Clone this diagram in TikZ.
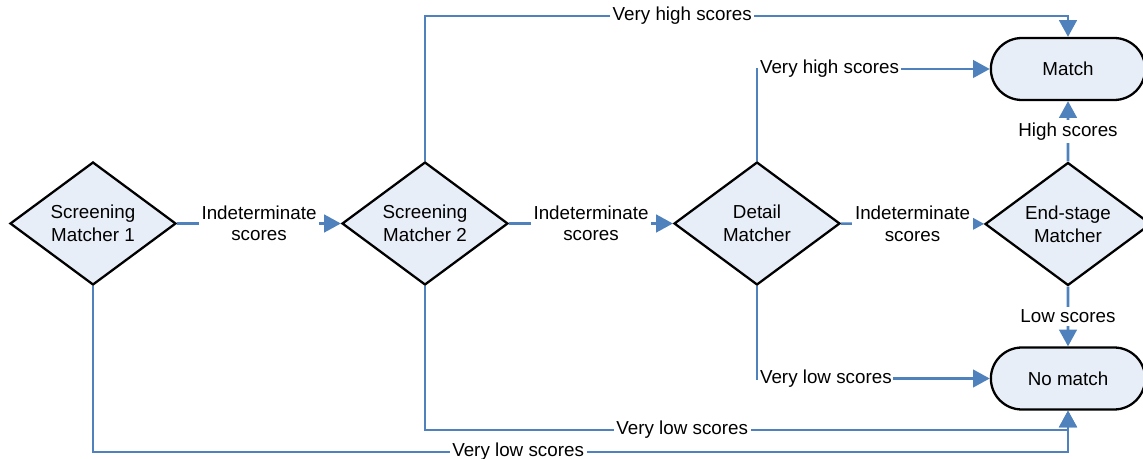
\documentclass[tikz,border=0pt]{standalone}
\usepackage{fontspec}
\setmainfont{Liberation Sans}
\usetikzlibrary{positioning,shapes.geometric,shapes.misc,arrows.meta}

\definecolor{flowblue}{HTML}{4F81BD}
\definecolor{boxfill}{HTML}{E8EEF7}

\tikzset{
  matcher/.style={diamond, draw=black, line width=1.3pt, fill=boxfill,
    minimum width=3.32cm, minimum height=2.46cm, inner sep=0pt, align=center,
    font=\fontsize{10.7}{13}\selectfont},
  outcome/.style={rounded rectangle, draw=black, line width=1.3pt, fill=boxfill,
    minimum width=3.32cm, minimum height=1.24cm,
    font=\fontsize{10.7}{13}\selectfont},
  flow/.style={draw=flowblue, line width=1.45pt, -{Triangle[length=9.5pt,width=10pt]}},
  lbl/.style={fill=white, inner sep=1.5pt, align=center,
    font=\fontsize{10.7}{12}\selectfont}
}

\begin{document}
\begin{tikzpicture}[x=0.02cm,y=-0.02cm]

\useasboundingbox (0,0) rectangle (1143,459);
\clip (0,0) rectangle (1143,459);

\node[matcher] (sm1) at (93,223.5)  {Screening\\Matcher 1};
\node[matcher] (sm2) at (425,223.5) {Screening\\Matcher 2};
\node[matcher] (dm)  at (757,223.5) {Detail\\Matcher};
\node[matcher] (esm) at (1068,224)  {End-stage\\Matcher};

\node[outcome] (match)   at (1068,69)    {Match};
\node[outcome] (nomatch) at (1068,378.5) {No match};

\coordinate (t2) at (425,16);
\coordinate (t4) at (1068,16);
\coordinate (b2) at (425,430);
\coordinate (b2e) at (1068,430);
\coordinate (b1) at (93,452);
\coordinate (b1e) at (1068,452);

% main line
\draw[flow] (sm1) -- node[lbl] {Indeterminate\\scores} (sm2);
\draw[flow] (sm2) -- node[lbl] {Indeterminate\\scores} (dm);
\draw[flow] (dm)  -- node[lbl] {Indeterminate\\scores} (esm);

\draw[flow] (esm) -- node[lbl] {High scores} (match);
\draw[flow] (esm) -- node[lbl] {Low scores} (nomatch);

% early exits
\draw[flow] (sm2.north) -- (t2) -- node[lbl,pos=0.4] {Very high scores} (t4) -- (match.north);
\draw[flow] (dm.north) |- node[lbl,pos=0.5,anchor=west,inner sep=1pt] {Very high scores} (match.west);
\draw[flow] (dm.south) |- node[lbl,pos=0.5,anchor=west,inner sep=1pt] {Very low scores} (nomatch.west);
\draw[flow] (sm2.south) -- (b2) -- node[lbl,pos=0.4] {Very low scores} (b2e) -- (nomatch.south);
\draw[flow] (sm1.south) -- (b1) -- node[lbl,pos=0.436] {Very low scores} (b1e) -- (nomatch.south);

\end{tikzpicture}
\end{document}
